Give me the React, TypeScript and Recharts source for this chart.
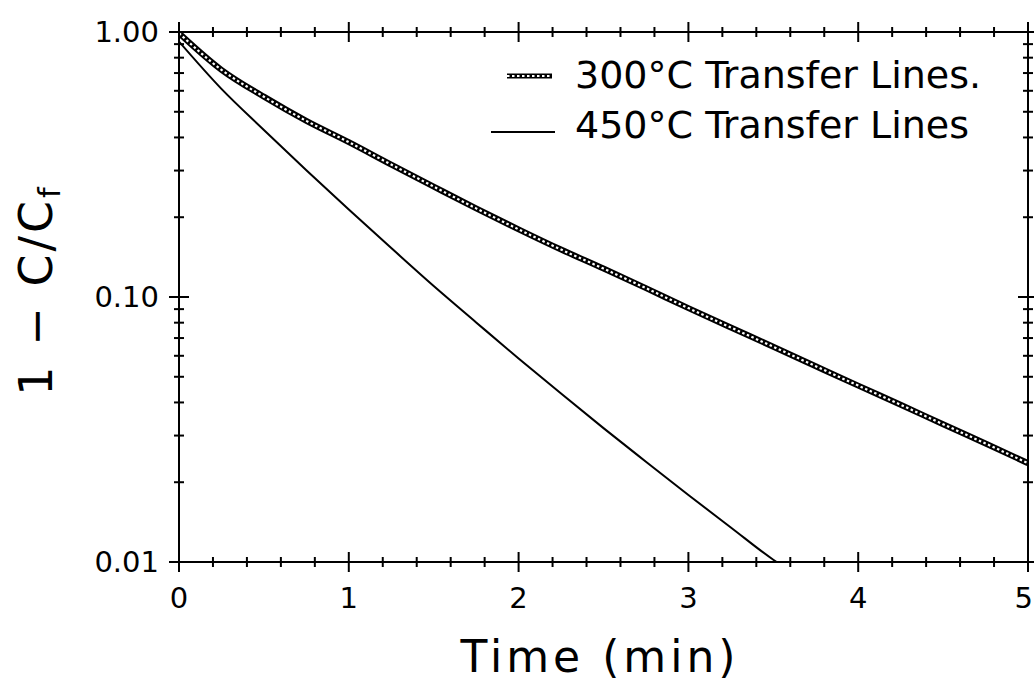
import React from 'react';
import { LineChart, Line, XAxis, YAxis } from 'recharts';

// 300°C transfer lines
const times300 = [0, 0.25, 0.5, 0.75, 1, 1.25, 1.5, 1.75, 2, 2.25, 2.5, 2.75, 3, 3.25, 3.5, 3.75, 4, 4.25, 4.5, 4.75, 5];
const values300 = [0.99, 0.72, 0.57, 0.462, 0.384, 0.316, 0.261, 0.216, 0.18, 0.151, 0.128, 0.108, 0.0908, 0.0767, 0.0649, 0.0548, 0.0463, 0.0392, 0.0331, 0.028, 0.0236];

// 450°C transfer lines
const times450 = [0, 0.25, 0.5, 0.75, 1, 1.25, 1.5, 1.75, 2, 2.25, 2.5, 2.75, 3, 3.25, 3.5, 3.52];
const values450 = [0.92, 0.61, 0.427, 0.301, 0.214, 0.153, 0.11, 0.0802, 0.0586, 0.0432, 0.032, 0.0239, 0.0179, 0.0135, 0.0102, 0.01];

const xMajorTicks = [0, 1, 2, 3, 4, 5];
const xMinorTicks = [0.2, 0.4, 0.6, 0.8, 1.2, 1.4, 1.6, 1.8, 2.2, 2.4, 2.6, 2.8, 3.2, 3.4, 3.6, 3.8, 4.2, 4.4, 4.6, 4.8];
const yMajorTicks = [0.01, 0.1, 1];
const yMajorLabels = ['0.01', '0.10', '1.00'];
const yMinorTicks = [0.02, 0.03, 0.04, 0.05, 0.06, 0.07, 0.08, 0.09, 0.2, 0.3, 0.4, 0.5, 0.6, 0.7, 0.8, 0.9];

const data300 = times300.map((t, i) => ({ t, v: values300[i] }));
const data450 = times450.map((t, i) => ({ t, v: values450[i] }));

const FONT = 'DejaVu Sans';

// tick marks cross the axis line; labels only on bottom / left
const XTick = ({ x, y, payload, showLabel }: any) => {
  const major = xMajorTicks.includes(payload.value);
  const len = major ? 10 : 5;
  const last = payload.value === xMajorTicks[xMajorTicks.length - 1];
  return (
    <g>
      <line x1={x} x2={x} y1={y - len} y2={y + len} stroke="#000" strokeWidth={2} />
      {showLabel && major && (
        <text
          x={last ? x + 5 : x}
          y={y + 46}
          textAnchor={last ? 'end' : 'middle'}
          fontSize={29}
          fontFamily={FONT}
          fill="#000"
        >
          {payload.value}
        </text>
      )}
    </g>
  );
};

const YTick = ({ x, y, payload, showLabel }: any) => {
  const idx = yMajorTicks.indexOf(payload.value);
  const major = idx >= 0;
  const len = major ? 10 : 5;
  return (
    <g>
      <line x1={x - len} x2={x + len} y1={y} y2={y} stroke="#000" strokeWidth={2} />
      {showLabel && major && (
        <text x={x - 20} y={y + 10} textAnchor="end" fontSize={29} fontFamily={FONT} fill="#000">
          {yMajorLabels[idx]}
        </text>
      )}
    </g>
  );
};

export default function App() {
  const xTicks = [...xMajorTicks, ...xMinorTicks].sort((a, b) => a - b);
  const yTicks = [...yMajorTicks, ...yMinorTicks].sort((a, b) => a - b);

  const xCommon = {
    type: 'number' as const,
    dataKey: 't',
    domain: [0, 5],
    ticks: xTicks,
    interval: 0,
    height: 1,
    tickSize: 0,
    tickMargin: 0,
    tickLine: false,
    axisLine: { stroke: '#000', strokeWidth: 2 },
    allowDataOverflow: true,
  };
  const yCommon = {
    type: 'number' as const,
    scale: 'log' as const,
    dataKey: 'v',
    domain: [0.01, 1],
    ticks: yTicks,
    interval: 0,
    width: 1,
    tickSize: 0,
    tickMargin: 0,
    tickLine: false,
    axisLine: { stroke: '#000', strokeWidth: 2 },
    allowDataOverflow: true,
  };

  return (
    <div style={{ position: 'absolute', left: 0, top: 0, width: 1034, height: 682, background: '#fff' }}>
      <LineChart width={1034} height={682} margin={{ top: 31, right: 5, bottom: 119, left: 178 }}>
        <XAxis xAxisId="bottom" {...xCommon} tick={<XTick showLabel />} />
        <XAxis xAxisId="top" orientation="top" {...xCommon} tick={<XTick />} />
        <YAxis yAxisId="left" {...yCommon} tick={<YTick showLabel />} />
        <YAxis yAxisId="right" orientation="right" {...yCommon} tick={<YTick />} />
        <Line
          xAxisId="bottom"
          yAxisId="left"
          data={data450}
          dataKey="v"
          type="monotone"
          stroke="#000"
          strokeWidth={2}
          dot={false}
          isAnimationActive={false}
        />
        {/* 300°C curve drawn as a chain of small open markers */}
        <Line
          xAxisId="bottom"
          yAxisId="left"
          data={data300}
          dataKey="v"
          type="monotone"
          stroke="#000"
          strokeWidth={6}
          dot={false}
          isAnimationActive={false}
        />
        <Line
          xAxisId="bottom"
          yAxisId="left"
          data={data300}
          dataKey="v"
          type="monotone"
          stroke="#fff"
          strokeWidth={2.2}
          strokeDasharray="2.5 2.5"
          dot={false}
          isAnimationActive={false}
        />
      </LineChart>

      {/* legend and axis titles */}
      <svg width={1034} height={682} style={{ position: 'absolute', left: 0, top: 0, pointerEvents: 'none' }}>
        <line x1={507} x2={552} y1={76} y2={76} stroke="#000" strokeWidth={5} />
        <line x1={507} x2={552} y1={76} y2={76} stroke="#fff" strokeWidth={2} strokeDasharray="2.5 2.5" />
        <text x={575} y={88} fontSize={38} fontFamily={FONT} fill="#000">300°C Transfer Lines.</text>
        <line x1={491} x2={555} y1={132} y2={132} stroke="#000" strokeWidth={2} />
        <text x={575} y={138} fontSize={38} fontFamily={FONT} fill="#000">450°C Transfer Lines</text>

        <text x={600} y={672} textAnchor="middle" fontSize={44} fontFamily={FONT} letterSpacing={4} fill="#000">
          Time (min)
        </text>

        <text
          transform="translate(52,290) rotate(-90)"
          textAnchor="middle"
          fontSize={46}
          fontFamily={FONT}
          letterSpacing={3}
          fill="#000"
        >
          1 − C/C
          <tspan fontSize={30} dy={8}>f</tspan>
        </text>
      </svg>
    </div>
  );
}
